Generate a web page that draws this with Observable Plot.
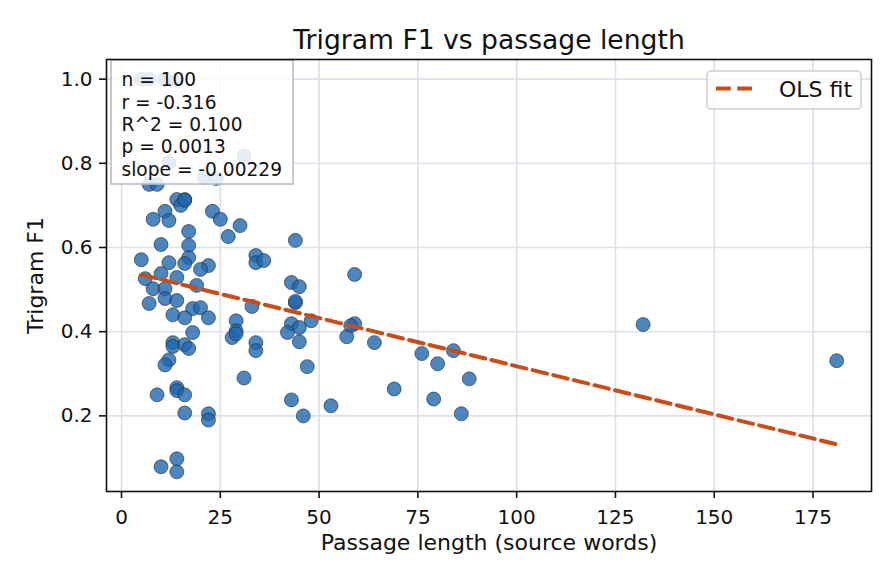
<!DOCTYPE html>
<html>
<head>
<meta charset="utf-8">
<script src="https://cdn.jsdelivr.net/npm/d3@7"></script>
<script src="https://cdn.jsdelivr.net/npm/@observablehq/plot@0.6"></script>
<style>
  html, body { margin: 0; padding: 0; background: #ffffff; }
  #chart svg { display: block; }
</style>
</head>
<body>
<div id="chart"></div>
<script>
// Passage length (source words) and trigram F1 for each of the 100 passages
const passageLength = [
  5, 7, 11, 14, 12, 21, 24, 31, 7, 9,
  14, 16, 15, 11, 8, 12, 23, 25, 30, 27,
  17, 10, 17, 5, 12, 17, 16, 22, 20, 34,
  34, 36, 44, 59, 10, 14, 6, 19, 8, 11,
  7, 11, 14, 18, 20, 13, 16, 22, 29, 33,
  43, 45, 44, 18, 13, 13, 16, 17, 12, 11,
  9, 14, 14, 16, 16, 22, 22, 10, 14, 14,
  29, 28, 29, 34, 34, 31, 43, 45, 42, 48,
  45, 47, 43, 46, 53, 59, 58, 57, 64, 69,
  76, 80, 84, 88, 79, 86, 132, 181, 16, 44
];
const trigramF1 = [
  1.000, 1.000, 1.000, 0.997, 0.802, 0.767, 0.764, 0.817, 0.750, 0.750,
  0.714, 0.714, 0.700, 0.686, 0.667, 0.664, 0.686, 0.667, 0.652, 0.626,
  0.638, 0.607, 0.605, 0.571, 0.564, 0.576, 0.562, 0.557, 0.548, 0.581,
  0.564, 0.569, 0.617, 0.536, 0.538, 0.529, 0.526, 0.510, 0.502, 0.502,
  0.467, 0.479, 0.474, 0.455, 0.457, 0.440, 0.433, 0.433, 0.426, 0.460,
  0.517, 0.507, 0.469, 0.398, 0.374, 0.365, 0.369, 0.360, 0.333, 0.321,
  0.250, 0.267, 0.260, 0.250, 0.207, 0.205, 0.190, 0.079, 0.098, 0.067,
  0.402, 0.386, 0.395, 0.374, 0.355, 0.290, 0.419, 0.410, 0.398, 0.426,
  0.376, 0.317, 0.238, 0.200, 0.224, 0.419, 0.414, 0.388, 0.374, 0.264,
  0.348, 0.324, 0.355, 0.288, 0.240, 0.205, 0.417, 0.331, 0.712, 0.472
];

// Ordinary least squares fit
const fitSlope = -0.00229;
const fitIntercept = 0.547;

// Summary statistics shown in the corner box
const statLines = [
  "n = 100",
  "r = -0.316",
  "R^2 = 0.100",
  "p = 0.0013",
  "slope = -0.00229"
];

const xTicks = [0, 25, 50, 75, 100, 125, 150, 175];
const yTicks = [0.2, 0.4, 0.6, 0.8, 1.0];

const titleText = "Trigram F1 vs passage length";
const xLabel = "Passage length (source words)";
const yLabel = "Trigram F1";
const legendLabel = "OLS fit";

const points = passageLength.map((len, i) => ({len, f1: trigramF1[i]}));

// 5% padding around the data extent on each axis
function padded(values, frac = 0.05) {
  const [lo, hi] = d3.extent(values);
  const pad = (hi - lo) * frac;
  return [lo - pad, hi + pad];
}
const xDomain = padded(passageLength);
const yDomain = padded(trigramF1);

const [xMin, xMax] = d3.extent(passageLength);
const fitLine = [xMin, xMax].map(len => ({len, f1: fitIntercept + fitSlope * len}));

const fitColor = "#c94c1b";
const dotFill = "#2166ac";
const font = "DejaVu Sans, sans-serif";

// Legend for the fitted line, in the upper right corner
function legend(index, scales, values, dims) {
  const right = dims.width - dims.marginRight - 10;
  const top = dims.marginTop + 12;
  const w = 154, h = 38;
  const g = d3.create("svg:g");
  g.append("rect")
    .attr("x", right - w).attr("y", top)
    .attr("width", w).attr("height", h)
    .attr("rx", 4)
    .attr("fill", "#ffffff").attr("fill-opacity", 0.8)
    .attr("stroke", "#d0d0d0").attr("stroke-width", 1.6);
  g.append("line")
    .attr("x1", right - w + 9).attr("x2", right - w + 47)
    .attr("y1", top + 17.5).attr("y2", top + 17.5)
    .attr("stroke", fitColor).attr("stroke-width", 4)
    .attr("stroke-dasharray", "14.8,6.4");
  g.append("text")
    .attr("x", right - w + 72).attr("y", top + 25.5)
    .attr("text-anchor", "start")
    .attr("font-family", font).attr("font-size", 22)
    .attr("fill", "#111111")
    .text(legendLabel);
  return g.node();
}

const chart = Plot.plot({
  width: 896,
  height: 584,
  marginLeft: 106,
  marginRight: 25,
  marginTop: 59,
  marginBottom: 93,
  style: {fontFamily: font, fontSize: "20px", color: "#111111", background: "#ffffff"},
  x: {domain: xDomain},
  y: {domain: yDomain},
  marks: [
    Plot.gridX(xTicks, {stroke: "#dbe2ea", strokeOpacity: 1, strokeWidth: 1.6}),
    Plot.gridY(yTicks, {stroke: "#dbe2ea", strokeOpacity: 1, strokeWidth: 1.6}),
    Plot.dot(points, {
      x: "len", y: "f1", r: 7,
      fill: dotFill, fillOpacity: 0.8,
      stroke: "#1c2633", strokeOpacity: 0.85, strokeWidth: 0.7
    }),
    Plot.line(fitLine, {
      x: "len", y: "f1",
      stroke: fitColor, strokeWidth: 4,
      strokeDasharray: "14.8,6.4"
    }),
    Plot.text([statLines.join("\n")], {
      frameAnchor: "top-left", textAnchor: "start", lineAnchor: "top",
      dx: 15, dy: 11, lineHeight: 1.2, fontSize: 18.6, fill: "#111111",
      className: "stats-text"
    }),
    legend,
    Plot.frame({stroke: "#111111", strokeWidth: 1.6}),
    Plot.axisX(xTicks, {
      tickSize: 7, tickPadding: 11, strokeWidth: 1.6, fontSize: 20,
      label: null
    }),
    Plot.axisY(yTicks, {
      tickSize: 7, tickPadding: 7, strokeWidth: 1.6, fontSize: 20,
      tickFormat: d3.format(".1f"), label: null
    }),
    Plot.text([titleText], {frameAnchor: "top", dy: -29, fontSize: 26.6, fill: "#111111"}),
    Plot.text([xLabel], {frameAnchor: "bottom", dy: 58, fontSize: 22, fill: "#111111"}),
    Plot.text([yLabel], {
      frameAnchor: "left", textAnchor: "middle", dx: -71, rotate: -90,
      fontSize: 22, fill: "#111111"
    })
  ]
});

// Translucent box behind the statistics text, inserted just beneath it
const statsText = chart.querySelector(".stats-text");
const box = document.createElementNS("http://www.w3.org/2000/svg", "rect");
box.setAttribute("x", 106 + 5);
box.setAttribute("y", 59 + 1);
box.setAttribute("width", 182);
box.setAttribute("height", 124);
box.setAttribute("fill", "#ffffff");
box.setAttribute("fill-opacity", "0.85");
box.setAttribute("stroke", "#b3bfcd");
box.setAttribute("stroke-width", "1.6");
(statsText || chart.lastChild).parentNode.insertBefore(box, statsText);

document.getElementById("chart").appendChild(chart);
</script>
</body>
</html>
